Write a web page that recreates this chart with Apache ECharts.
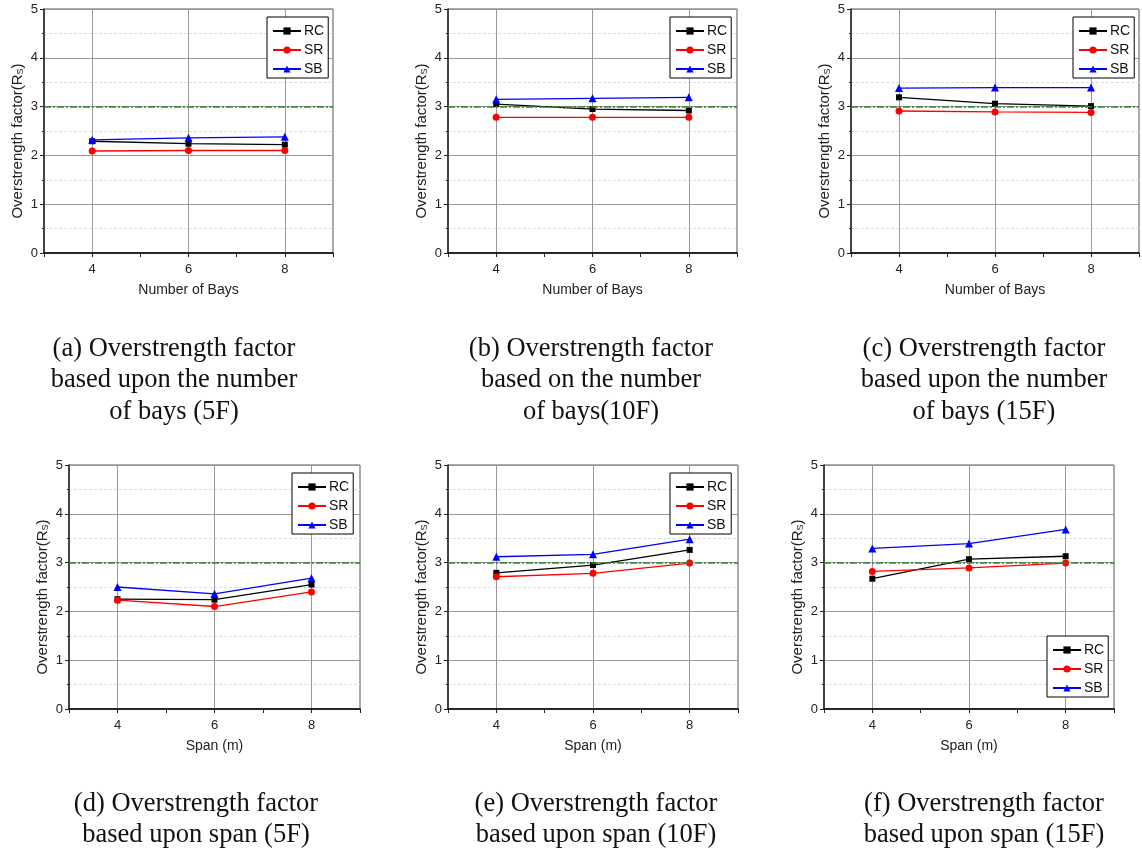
<!DOCTYPE html>
<html>
<head>
<meta charset="utf-8">
<script src="https://cdn.jsdelivr.net/npm/echarts@6/dist/echarts.min.js"></script>
<style>
  html, body { margin: 0; padding: 0; background: #fff; }
  #chart { width: 1142px; height: 854px; }
</style>
</head>
<body>
<div id="chart"></div>
<script>
"use strict";

// ---------- data ----------
const xVals = [4, 6, 8];
const xTickLabels = [4, 6, 8];
const seriesNames = ["RC", "SR", "SB"];
const refValue = 3;

const rcBays5 = [2.29, 2.24, 2.22];
const srBays5 = [2.09, 2.10, 2.10];
const sbBays5 = [2.32, 2.36, 2.38];

const rcBays10 = [3.05, 2.95, 2.92];
const srBays10 = [2.78, 2.78, 2.78];
const sbBays10 = [3.15, 3.17, 3.19];

const rcBays15 = [3.19, 3.06, 3.01];
const srBays15 = [2.91, 2.89, 2.88];
const sbBays15 = [3.38, 3.39, 3.39];

const rcSpan5 = [2.25, 2.24, 2.55];
const srSpan5 = [2.23, 2.10, 2.40];
const sbSpan5 = [2.50, 2.36, 2.68];

const rcSpan10 = [2.79, 2.95, 3.26];
const srSpan10 = [2.71, 2.78, 2.99];
const sbSpan10 = [3.12, 3.17, 3.48];

const rcSpan15 = [2.67, 3.07, 3.13];
const srSpan15 = [2.82, 2.89, 2.99];
const sbSpan15 = [3.29, 3.39, 3.68];

const xNameBays = "Number of Bays";
const xNameSpan = "Span (m)";
const yName = "Overstrength factor(R{s|S})";

const captions = [
  "(a) Overstrength factor\nbased upon the number\nof bays (5F)",
  "(b) Overstrength factor\nbased on the number\nof bays(10F)",
  "(c) Overstrength factor\nbased upon the number\nof bays (15F)",
  "(d) Overstrength factor\nbased upon span (5F)",
  "(e) Overstrength factor\nbased upon span (10F)",
  "(f) Overstrength factor\nbased upon span (15F)",
];

// ---------- style ----------
const SANS = "Liberation Sans";
const SERIF = "Liberation Serif";
const colors = ["#000000", "#ff0000", "#0000ff"];
const symbols = ["rect", "circle", "triangle"];
const symbolSizes = [6, 7, 8];

const panels = [
  { grid: { left: 44, top: 9, width: 289, height: 244 }, xName: xNameBays, data: [rcBays5, srBays5, sbBays5], legend: { left: 267, top: 17 }, cap: [174, 333] },
  { grid: { left: 448, top: 9, width: 289, height: 244 }, xName: xNameBays, data: [rcBays10, srBays10, sbBays10], legend: { left: 670, top: 17 }, cap: [591, 333] },
  { grid: { left: 851, top: 9, width: 289, height: 244 }, xName: xNameBays, data: [rcBays15, srBays15, sbBays15], legend: { left: 1073, top: 17 }, cap: [984, 333] },
  { grid: { left: 69, top: 465, width: 291, height: 244 }, xName: xNameSpan, data: [rcSpan5, srSpan5, sbSpan5], legend: { left: 292, top: 473 }, cap: [196, 788] },
  { grid: { left: 448, top: 465, width: 290, height: 244 }, xName: xNameSpan, data: [rcSpan10, srSpan10, sbSpan10], legend: { left: 670, top: 473 }, cap: [596, 788] },
  { grid: { left: 824, top: 465, width: 290, height: 244 }, xName: xNameSpan, data: [rcSpan15, srSpan15, sbSpan15], legend: { left: 1047, top: 636 }, cap: [984, 788] },
];

const grid = [], xAxis = [], yAxis = [], legend = [], series = [], graphic = [];

panels.forEach((p, i) => {
  grid.push(Object.assign({ show: true, borderColor: "#555", borderWidth: 1, backgroundColor: "transparent" }, p.grid));

  xAxis.push({
    gridIndex: i, type: "value", min: 3, max: 9, interval: 1,
    name: p.xName, nameLocation: "middle", nameGap: 30,
    nameTextStyle: { fontFamily: SANS, fontSize: 14, color: "#222" },
    axisLine: { onZero: false, lineStyle: { color: "#000", width: 1.5 } },
    axisTick: { show: true, inside: false, length: 4, lineStyle: { color: "#222" } },
    axisLabel: { margin: 10, fontFamily: SANS, fontSize: 13, color: "#222", formatter: (v) => (xTickLabels.includes(v) ? String(v) : "") },
    splitLine: { show: true, lineStyle: { color: ["transparent", "#999"], width: 1 } },
  });

  yAxis.push({
    gridIndex: i, type: "value", min: 0, max: 5, interval: 1,
    name: yName, nameLocation: "middle", nameGap: 19,
    nameTextStyle: { fontFamily: SANS, fontSize: 15, color: "#222", padding: [0, 20, 0, 0], rich: { s: { fontFamily: SANS, fontSize: 9, color: "#222", verticalAlign: "bottom" } } },
    axisLine: { lineStyle: { color: "#222", width: 1.5 } },
    axisTick: { show: true, inside: false, length: 4, lineStyle: { color: "#222" } },
    minorTick: { show: true, splitNumber: 2, length: 2, lineStyle: { color: "#222" } },
    axisLabel: { margin: 6, fontFamily: SANS, fontSize: 13, color: "#222" },
    splitLine: { show: true, lineStyle: { color: "#999", width: 1 } },
    minorSplitLine: { show: true, lineStyle: { color: "#ddd", type: [3, 2], width: 1 } },
  });

  legend.push({
    orient: "vertical", left: p.legend.left, top: p.legend.top,
    data: seriesNames, selectedMode: false,
    padding: [7, 4, 2, 5], itemGap: 5, itemWidth: 28, itemHeight: 9,
    borderColor: "#000", borderWidth: 1, backgroundColor: "#fff",
    textStyle: { fontFamily: SANS, fontSize: 14, color: "#111", padding: [0, 0, 0, -2] },
  });

  // reference line at Rs = 3
  series.push({
    type: "line", xAxisIndex: i, yAxisIndex: i, data: [], z: 1, silent: true,
    markLine: {
      silent: true, symbol: "none", label: { show: false },
      lineStyle: { color: "#2e8b2e", type: [7, 2, 2, 2], width: 1.5 },
      data: [{ yAxis: refValue }],
    },
  });

  p.data.forEach((vals, k) => {
    series.push({
      name: seriesNames[k], type: "line", xAxisIndex: i, yAxisIndex: i, z: 3,
      data: xVals.map((x, j) => [x, vals[j]]),
      symbol: symbols[k], symbolSize: symbolSizes[k],
      itemStyle: { color: colors[k] },
      lineStyle: { color: colors[k], width: 1.3 },
    });
  });

  graphic.push({
    type: "text", x: p.cap[0], y: p.cap[1], silent: true,
    style: { text: captions[i], fill: "#111", font: "26.5px '" + SERIF + "'", textAlign: "center", textVerticalAlign: "top", lineHeight: 31.5 },
  });
});

const chart = echarts.init(document.getElementById("chart"), null, { renderer: "canvas" });
chart.setOption({ animation: false, backgroundColor: "#fff", grid, xAxis, yAxis, legend, series, graphic });
</script>
</body>
</html>
